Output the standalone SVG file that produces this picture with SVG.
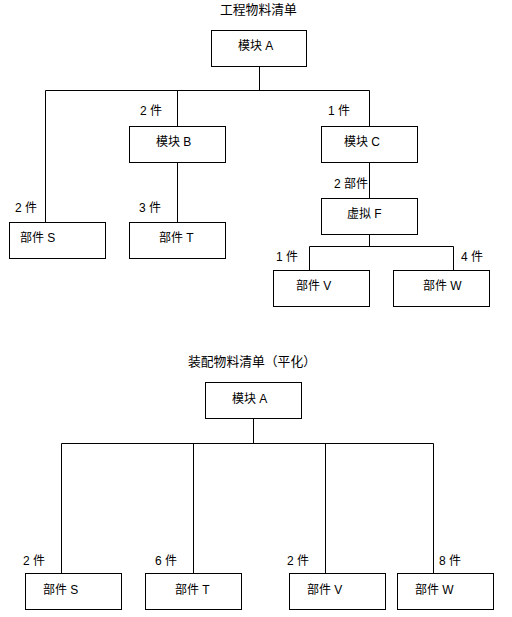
<svg xmlns="http://www.w3.org/2000/svg" width="512" height="617" viewBox="0 0 512 617">
<style>
.n rect{fill:#fff;stroke:#000;stroke-width:1}
.c line{stroke:#000;stroke-width:1}
text{font-family:"Liberation Sans","Noto Sans CJK SC",sans-serif;font-size:12px;fill:#000}
.t{font-size:12.8px}
</style>
<rect width="512" height="617" fill="#fff"/>
<text class="t" x="220" y="14">工程物料清单</text>
<text class="t" x="188" y="366">装配物料清单（平化）</text>
<g class="c" id="connectors">
<line x1="259.5" y1="66.5" x2="259.5" y2="90.5"/>
<line x1="45.5" y1="90.5" x2="369.5" y2="90.5"/>
<line x1="45.5" y1="90.5" x2="45.5" y2="222.5"/>
<line x1="177.5" y1="90.5" x2="177.5" y2="126.5"/>
<line x1="369.5" y1="90.5" x2="369.5" y2="126.5"/>
<line x1="177.5" y1="162.5" x2="177.5" y2="222.5"/>
<line x1="369.5" y1="162.5" x2="369.5" y2="198.5"/>
<line x1="369.5" y1="234.5" x2="369.5" y2="246.5"/>
<line x1="309.5" y1="246.5" x2="453.5" y2="246.5"/>
<line x1="309.5" y1="246.5" x2="309.5" y2="270.5"/>
<line x1="453.5" y1="246.5" x2="453.5" y2="270.5"/>
<line x1="253.5" y1="418.5" x2="253.5" y2="443.5"/>
<line x1="61.5" y1="443.5" x2="433.5" y2="443.5"/>
<line x1="61.5" y1="443.5" x2="61.5" y2="573.5"/>
<line x1="193.5" y1="443.5" x2="193.5" y2="573.5"/>
<line x1="325.5" y1="443.5" x2="325.5" y2="573.5"/>
<line x1="433.5" y1="443.5" x2="433.5" y2="573.5"/>
<text x="140" y="115">2 件</text>
<text x="328" y="115">1 件</text>
<text x="15" y="212">2 件</text>
<text x="139" y="212">3 件</text>
<text x="334" y="188">2 部件</text>
<text x="276" y="261">1 件</text>
<text x="461" y="261">4 件</text>
<text x="23" y="565">2 件</text>
<text x="155" y="565">6 件</text>
<text x="287" y="565">2 件</text>
<text x="439" y="565">8 件</text>
</g>
<g class="n" id="e-A"><rect x="211.5" y="30.5" width="95" height="36"/><text x="238" y="50">模块 A</text></g>
<g class="n" id="e-B"><rect x="129.5" y="126.5" width="96" height="36"/><text x="156" y="146">模块 B</text></g>
<g class="n" id="e-C"><rect x="321.5" y="126.5" width="96" height="36"/><text x="344" y="146">模块 C</text></g>
<g class="n" id="e-S"><rect x="9.5" y="222.5" width="96" height="36"/><text x="20" y="242">部件 S</text></g>
<g class="n" id="e-T"><rect x="129.5" y="222.5" width="96" height="36"/><text x="159" y="242">部件 T</text></g>
<g class="n" id="e-F"><rect x="321.5" y="198.5" width="96" height="36"/><text x="347" y="218">虚拟 F</text></g>
<g class="n" id="e-V"><rect x="273.5" y="270.5" width="96" height="36"/><text x="296" y="290">部件 V</text></g>
<g class="n" id="e-W"><rect x="393.5" y="270.5" width="96" height="36"/><text x="423" y="290">部件 W</text></g>
<g class="n" id="a-A"><rect x="205.5" y="382.5" width="96" height="36"/><text x="232" y="403">模块 A</text></g>
<g class="n" id="a-S"><rect x="25.5" y="573.5" width="96" height="36"/><text x="43" y="594">部件 S</text></g>
<g class="n" id="a-T"><rect x="145.5" y="573.5" width="96" height="36"/><text x="175" y="594">部件 T</text></g>
<g class="n" id="a-V"><rect x="289.5" y="573.5" width="96" height="36"/><text x="307" y="594">部件 V</text></g>
<g class="n" id="a-W"><rect x="397.5" y="573.5" width="96" height="36"/><text x="415" y="594">部件 W</text></g>
</svg>
